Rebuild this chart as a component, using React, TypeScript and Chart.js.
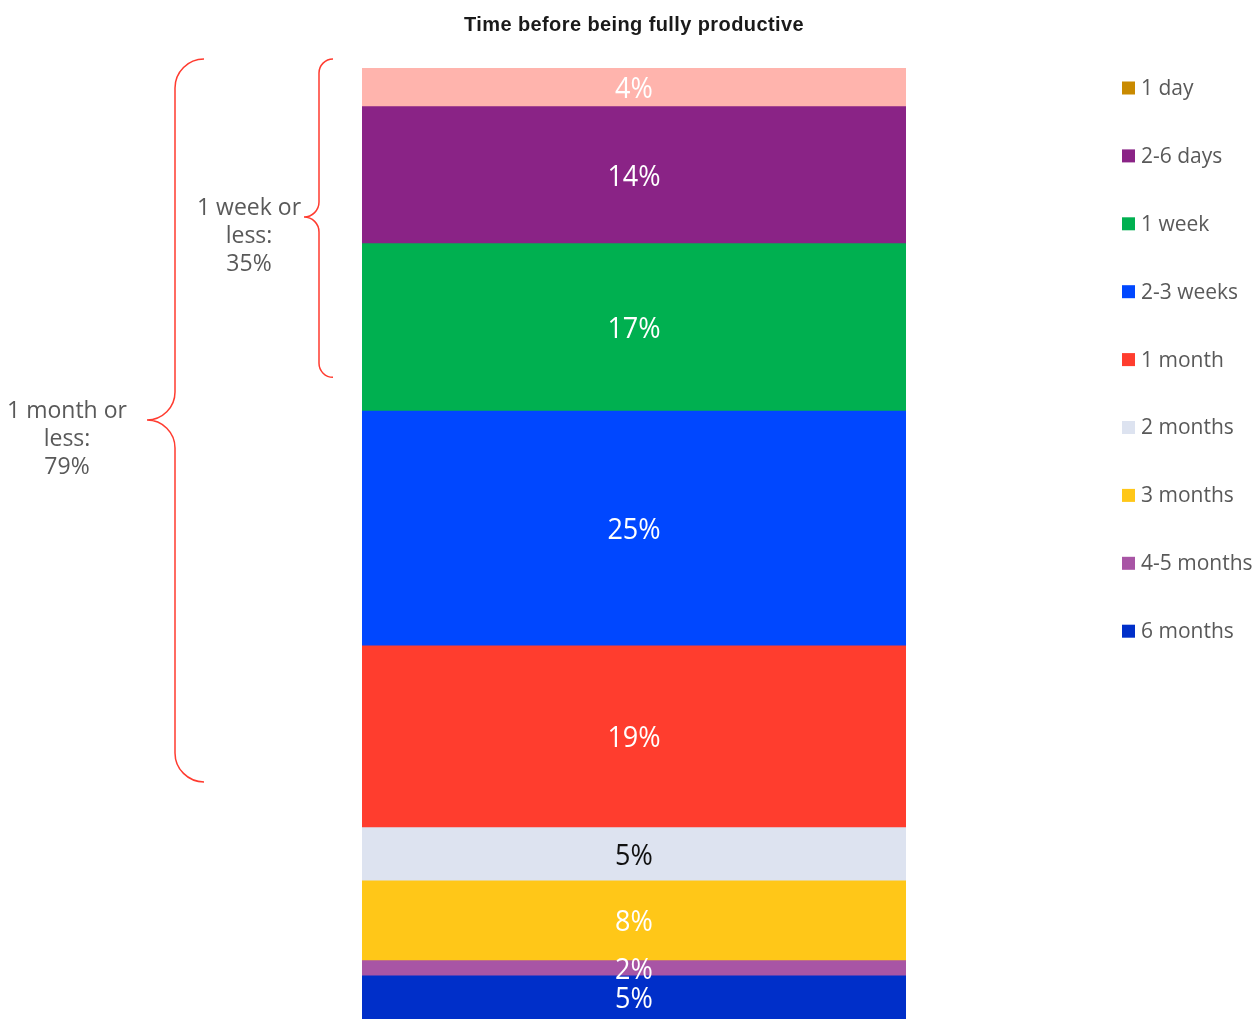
import React, { useEffect, useRef } from "react";
import { Chart, registerables } from "chart.js";

Chart.register(...registerables);

const categories = ["Respondents"];
const seriesLabels = ["1 day", "2-6 days", "1 week", "2-3 weeks", "1 month", "2 months", "3 months", "4-5 months", "6 months"];
const seriesValues = [4.0, 14.4, 17.6, 24.7, 19.1, 5.6, 8.4, 1.6, 4.6];
const valueLabels = ["4%", "14%", "17%", "25%", "19%", "5%", "8%", "2%", "5%"];
const barColors = ["#FFB4AD", "#8A2386", "#00B050", "#0047FF", "#FF3D2E", "#DDE3F0", "#FFC718", "#A855A5", "#002FC9"];
const legendColors = ["#C98A00", "#8A2386", "#00B050", "#0047FF", "#FF3D2E", "#DDE3F0", "#FFC718", "#A855A5", "#002FC9"];
const labelColors = ["#FFFFFF", "#FFFFFF", "#FFFFFF", "#FFFFFF", "#FFFFFF", "#111111", "#FFFFFF", "#FFFFFF", "#FFFFFF"];
const titleText = "Time before being fully productive";
const bracketGroups = [
  { lines: ["1 week or", "less:", "35%"], from: 0, to: 3 },
  { lines: ["1 month or", "less:", "79%"], from: 0, to: 5 },
];

const RED = "#FF3B2F";
const GRAY = "#595959";

function drawBrace(ctx: CanvasRenderingContext2D, xEnd: number, xMid: number, xTip: number, yTop: number, yBot: number, yTip: number) {
  const r = xEnd - xMid;
  const r2 = xMid - xTip;
  ctx.beginPath();
  ctx.moveTo(xEnd, yTop);
  ctx.arcTo(xMid, yTop, xMid, yTop + r, r);
  ctx.lineTo(xMid, yTip - r2);
  ctx.arcTo(xMid, yTip, xTip, yTip, r2);
  ctx.moveTo(xTip, yTip);
  ctx.arcTo(xMid, yTip, xMid, yTip + r2, r2);
  ctx.lineTo(xMid, yBot - r);
  ctx.arcTo(xMid, yBot, xEnd, yBot, r);
  ctx.stroke();
}

const overlayPlugin = {
  id: "overlay",
  afterDatasetsDraw(chart: any) {
    const ctx = chart.ctx as CanvasRenderingContext2D;
    chart.data.datasets.forEach((ds: any, i: number) => {
      const meta = chart.getDatasetMeta(i);
      meta.data.forEach((el: any) => {
        const cy = (el.y + el.base) / 2;
        ctx.save();
        ctx.font = "30px 'Open Sans'";
        ctx.textAlign = "center";
        ctx.textBaseline = "alphabetic";
        ctx.fillStyle = labelColors[i];
        ctx.translate(el.x, cy + 11);
        ctx.scale(0.9, 1);
        ctx.fillText(valueLabels[i], 0, 0);
        ctx.restore();
      });
    });
  },
  afterDraw(chart: any) {
    const ctx = chart.ctx as CanvasRenderingContext2D;
    const y = chart.scales.y;
    ctx.save();
    // title
    ctx.fillStyle = "#1A1A1A";
    ctx.font = "bold 20px 'Liberation Sans', Arial";
    (ctx as any).letterSpacing = "0.4px";
    ctx.textAlign = "center";
    ctx.textBaseline = "alphabetic";
    ctx.fillText(titleText, 634, 31);
    (ctx as any).letterSpacing = "0px";

    // legend
    ctx.font = "21px 'Open Sans'";
    ctx.textAlign = "left";
    ctx.textBaseline = "middle";
    seriesLabels.forEach((lab, i) => {
      const cy = 88 + i * 67.9;
      ctx.fillStyle = legendColors[i];
      ctx.fillRect(1122, cy - 6.5, 13, 13);
      ctx.fillStyle = GRAY;
      ctx.fillText(lab, 1141, cy + 1);
    });

    // braces
    const cum = (n: number) => seriesValues.slice(0, n).reduce((a, b) => a + b, 0);
    ctx.strokeStyle = RED;
    ctx.lineWidth = 1.5;
    const g0 = bracketGroups[0];
    const g1 = bracketGroups[1];
    const t0 = y.getPixelForValue(cum(g0.from)) - 9;
    const b0 = y.getPixelForValue(cum(g0.to)) - 33;
    drawBrace(ctx, 333, 319, 304, t0, b0, 217);
    const b1 = y.getPixelForValue(cum(g1.to)) - 45;
    drawBrace(ctx, 204, 175, 147, t0, b1, 420);

    ctx.fillStyle = GRAY;
    ctx.font = "23px 'Open Sans'";
    ctx.textAlign = "center";
    g0.lines.forEach((l, k) => ctx.fillText(l, 249, 208 + k * 28));
    g1.lines.forEach((l, k) => ctx.fillText(l, 67, 411 + k * 28));
    ctx.restore();
  },
};

export default function App() {
  const ref = useRef<HTMLCanvasElement | null>(null);
  useEffect(() => {
    if (!ref.current) return;
    const chart = new Chart(ref.current, {
      type: "bar",
      data: {
        labels: categories,
        datasets: seriesLabels.map((lab, i) => ({
          label: lab,
          data: [seriesValues[i]],
          backgroundColor: barColors[i],
          borderWidth: 0,
          barPercentage: 1,
          categoryPercentage: 1,
        })),
      },
      options: {
        animation: false,
        responsive: false,
        maintainAspectRatio: false,
        layout: { padding: { top: 68, bottom: 0, left: 362, right: 353 } },
        plugins: { legend: { display: false }, tooltip: { enabled: false }, title: { display: false } },
        scales: {
          x: { stacked: true, display: false, grid: { display: false } },
          y: {
            stacked: true,
            display: false,
            reverse: true,
            min: 0,
            max: seriesValues.reduce((a, b) => a + b, 0),
            grid: { display: false },
          },
        },
      },
      plugins: [overlayPlugin],
    });
    return () => chart.destroy();
  }, []);
  return (
    <div style={{ position: "fixed", left: 0, top: 0, width: 1259, height: 1019, background: "#fff" }}>
      <canvas ref={ref} width={1259} height={1019} style={{ display: "block", width: 1259, height: 1019 }} />
    </div>
  );
}
